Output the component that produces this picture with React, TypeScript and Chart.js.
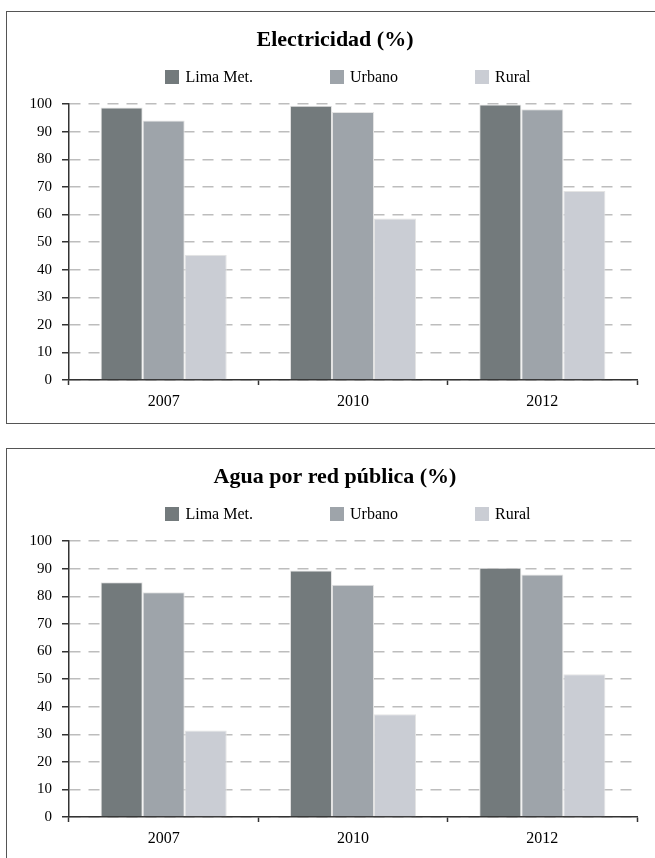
import React, { useEffect, useRef } from "react";
import { Chart, registerables } from "chart.js";

Chart.register(...registerables);

const years = ["2007", "2010", "2012"];
const seriesNames = ["Lima Met.", "Urbano", "Rural"];
const seriesColors = ["#737A7C", "#9EA4AA", "#CACDD4"];

const elecTitle = "Electricidad (%)";
const elecLima = [98.8, 99.4, 99.9];
const elecUrbano = [94.1, 97.2, 98.2];
const elecRural = [45.4, 58.6, 68.5];

const aguaTitle = "Agua por red pública (%)";
const aguaLima = [85.1, 89.4, 90.4];
const aguaUrbano = [81.5, 84.2, 87.9];
const aguaRural = [31.4, 37.3, 51.8];

const yMin = 0;
const yMax = 100;
const yStep = 10;

const FONT = "'Liberation Serif', 'DejaVu Serif', serif";
const CANVAS_W = 656;
const CANVAS_H = 411;

function BarBox({ title, series, top }: { title: string; series: number[][]; top: number }) {
  const ref = useRef<HTMLCanvasElement | null>(null);
  useEffect(() => {
    if (!ref.current) return;
    const chart = new Chart(ref.current, {
      type: "bar",
      data: {
        labels: years,
        datasets: series.map((vals, i) => ({
          label: seriesNames[i],
          data: vals,
          backgroundColor: seriesColors[i],
          borderColor: "#E4E4E4",
          borderWidth: 1,
          categoryPercentage: 0.666,
          barPercentage: 1,
        })),
      },
      options: {
        responsive: false,
        animation: false,
        devicePixelRatio: 1,
        layout: { padding: 0 },
        plugins: {
          legend: { display: false },
          tooltip: { enabled: false },
          title: {
            display: true,
            text: title,
            color: "#000",
            font: { family: FONT, size: 22, weight: "bold" },
            padding: { top: 15, bottom: 50.8 },
          },
        },
        scales: {
          x: {
            offset: true,
            border: { display: true, color: "#333", width: 1.5 },
            grid: {
              offset: true,
              drawOnChartArea: false,
              drawTicks: true,
              tickLength: 5,
              tickColor: "#333",
              tickWidth: 1.5,
            },
            ticks: { color: "#000", font: { family: FONT, size: 16 }, padding: 7 },
            afterFit: (s: any) => {
              s.height = 43;
              s.paddingRight = 26;
            },
          },
          y: {
            min: yMin,
            max: yMax,
            border: { display: true, color: "#333", width: 1.5, dash: [11, 8] },
            grid: {
              color: "#BDBDBD",
              lineWidth: 1.5,
              drawTicks: true,
              tickLength: 7,
              tickColor: "#333",
              tickWidth: 1.5,
              tickBorderDash: [],
            } as any,
            ticks: {
              stepSize: yStep,
              color: "#000",
              font: { family: FONT, size: 15 },
              padding: 10,
            },
            afterFit: (s: any) => {
              s.width = 62;
            },
          },
        },
      },
    });
    return () => chart.destroy();
  }, [title, series]);

  return (
    <div
      style={{
        position: "absolute",
        left: 6,
        top,
        width: 720,
        height: 413,
        border: "1px solid #555",
        boxSizing: "border-box",
        background: "#fff",
      }}
    >
      <canvas
        ref={ref}
        width={CANVAS_W}
        height={CANVAS_H}
        style={{ position: "absolute", left: 0, top: 0, width: CANVAS_W, height: CANVAS_H, display: "block" }}
      />
      <div
        style={{
          position: "absolute",
          left: 0,
          top: 55,
          width: 682,
          height: 20,
          display: "flex",
          justifyContent: "center",
          alignItems: "center",
          gap: 77,
          fontFamily: FONT,
          fontSize: 16,
          color: "#000",
        }}
      >
        {seriesNames.map((n, i) => (
          <div key={n} style={{ display: "flex", alignItems: "center" }}>
            <span style={{ display: "inline-block", width: 14, height: 14, background: seriesColors[i], marginRight: 6 }} />
            <span>{n}</span>
          </div>
        ))}
      </div>
    </div>
  );
}

export default function App() {
  return (
    <div style={{ position: "absolute", left: 0, top: 0, width: 655, height: 858, overflow: "hidden", background: "#fff" }}>
      <BarBox title={elecTitle} series={[elecLima, elecUrbano, elecRural]} top={11} />
      <BarBox title={aguaTitle} series={[aguaLima, aguaUrbano, aguaRural]} top={448} />
    </div>
  );
}
